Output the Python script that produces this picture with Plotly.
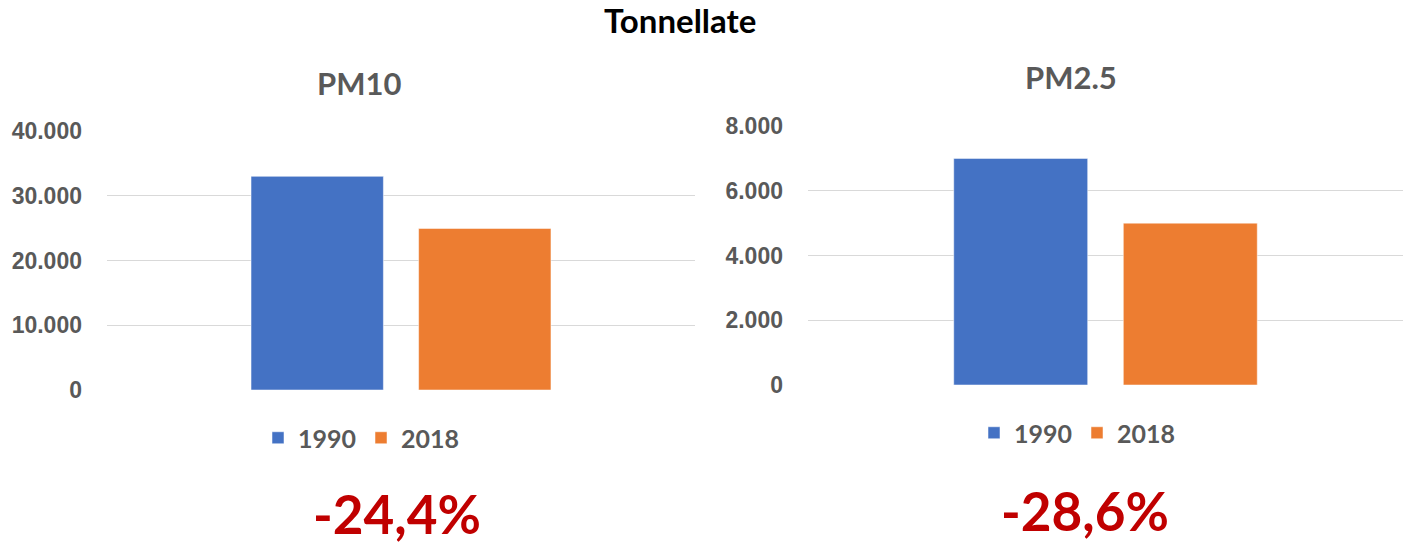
import plotly.graph_objects as go

title_text = "Tonnellate"
panels = ["PM10", "PM2.5"]
years = ["1990", "2018"]
pm10_values = [33000, 24950]
pm25_values = [7000, 5000]
changes = ["-24,4%", "-28,6%"]
pm10_ticks = [0, 10000, 20000, 30000, 40000]
pm25_ticks = [0, 2000, 4000, 6000, 8000]
colors = ["#4472C4", "#ED7D31"]

W, H = 1403, 546
GRAY = "#595959"
CAL = "Lato, 'Open Sans', sans-serif"
ARIAL = "'Liberation Sans', Arial, sans-serif"

fig = go.Figure()

for i, yr in enumerate(years):
    fig.add_trace(go.Bar(
        x=[panels[0]], y=[pm10_values[i]], name=yr,
        marker=dict(color=colors[i], line=dict(color="rgba(255,255,255,0.5)", width=1)),
        xaxis="x", yaxis="y", legend="legend", showlegend=True,
        hoverinfo="skip",
    ))
for i, yr in enumerate(years):
    fig.add_trace(go.Bar(
        x=[panels[1]], y=[pm25_values[i]], name=yr,
        marker=dict(color=colors[i], line=dict(color="rgba(255,255,255,0.5)", width=1)),
        xaxis="x2", yaxis="y2", legend="legend2", showlegend=True,
        hoverinfo="skip",
    ))

axis_common = dict(showline=False, zeroline=False, showgrid=True, gridcolor="#D9D9D9",
                   gridwidth=1, ticks="", automargin=False,
                   tickfont=dict(family=ARIAL, size=23, color=GRAY, weight="bold"))

fig.update_layout(
    width=W, height=H,
    margin=dict(l=0, r=0, t=0, b=0),
    paper_bgcolor="white", plot_bgcolor="white",
    separators=",.",
    barmode="group", bargap=0.43, bargroupgap=0.21,
    xaxis=dict(domain=[107 / W, 695 / W], showticklabels=False, showgrid=False,
               zeroline=False, showline=False, anchor="y", fixedrange=True),
    xaxis2=dict(domain=[808 / W, 1.0], showticklabels=False, showgrid=False,
                zeroline=False, showline=False, anchor="y2", fixedrange=True),
    yaxis=dict(domain=[1 - 390 / H, 1 - 131 / H], range=[0, 40000], tickvals=pm10_ticks,
               tickformat=",d", anchor="x", ticklabelstandoff=24, **axis_common),
    yaxis2=dict(domain=[1 - 385 / H, 1 - 126 / H], range=[0, 8000], tickvals=pm25_ticks,
                tickformat=",d", anchor="x2", ticklabelstandoff=24, **axis_common),
    legend=dict(orientation="h", x=258 / W, xanchor="left", y=1 - 438 / H, yanchor="middle",
                font=dict(family=CAL, size=25, color=GRAY, weight="bold"),
                bgcolor="rgba(0,0,0,0)", itemwidth=30, tracegroupgap=0),
    legend2=dict(orientation="h", x=974 / W, xanchor="left", y=1 - 433 / H, yanchor="middle",
                 font=dict(family=CAL, size=25, color=GRAY, weight="bold"),
                 bgcolor="rgba(0,0,0,0)", itemwidth=30, tracegroupgap=0),
    showlegend=True,
)

annotations = [
    dict(text=title_text, x=680 / W, y=1 - 20 / H, xref="paper", yref="paper",
         showarrow=False, font=dict(family=CAL, size=33, color="black", weight="bold"),
         xanchor="center", yanchor="middle"),
    dict(text=panels[0], x=359 / W, y=1 - 83 / H, xref="paper", yref="paper",
         showarrow=False, font=dict(family=CAL, size=31, color=GRAY, weight="bold"),
         xanchor="center", yanchor="middle"),
    dict(text=panels[1], x=1071 / W, y=1 - 77 / H, xref="paper", yref="paper",
         showarrow=False, font=dict(family=CAL, size=31, color=GRAY, weight="bold"),
         xanchor="center", yanchor="middle"),
    dict(text=changes[0], x=397 / W, y=1 - 513 / H, xref="paper", yref="paper",
         showarrow=False, font=dict(family=CAL, size=53, color="#C00000", weight="bold"),
         xanchor="center", yanchor="middle"),
    dict(text=changes[1], x=1085 / W, y=1 - 510 / H, xref="paper", yref="paper",
         showarrow=False, font=dict(family=CAL, size=53, color="#C00000", weight="bold"),
         xanchor="center", yanchor="middle"),
]
fig.update_layout(annotations=annotations)

fig.write_html("out.html")
